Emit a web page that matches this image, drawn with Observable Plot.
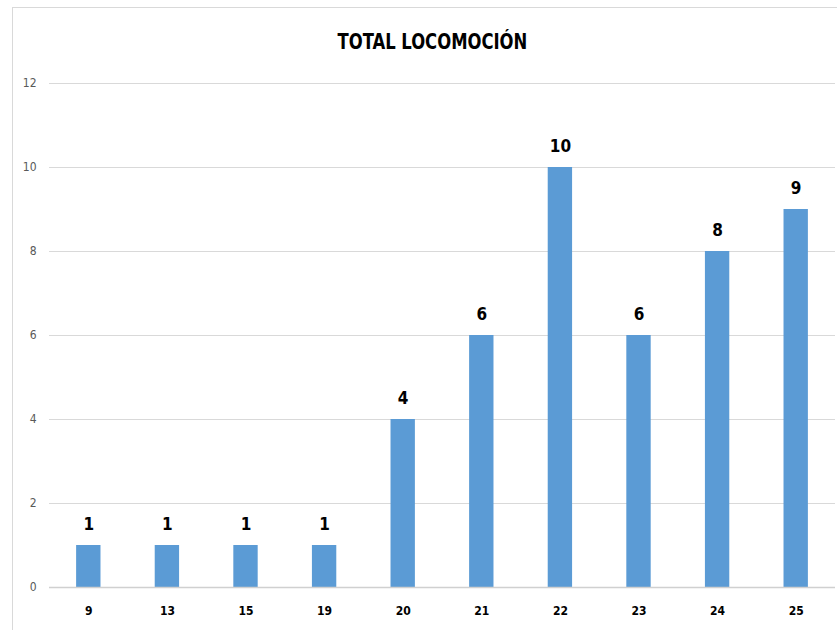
<!DOCTYPE html>
<html>
<head>
<meta charset="utf-8">
<script src="https://cdn.jsdelivr.net/npm/d3@7"></script>
<script src="https://cdn.jsdelivr.net/npm/@observablehq/plot@0.6"></script>
<style>
  html, body { margin: 0; padding: 0; background: #fff; width: 837px; height: 630px; overflow: hidden; }
  #frame { position: absolute; left: 12px; top: 7px; width: 840px; height: 640px; border: 1px solid #d9d9d9; box-sizing: border-box; }
  #title { position: absolute; left: 0; top: 27px; width: 865px; text-align: center; font-family: "Liberation Sans Narrow", "DejaVu Sans Condensed", sans-serif; font-weight: bold; font-size: 22px; color: #000; line-height: 30px; transform: scaleX(0.83); transform-origin: 432px 0; }
  #chart { position: absolute; left: 0; top: 70px; }
</style>
</head>
<body>
<div id="frame"></div>
<div id="title">TOTAL LOCOMOCIÓN</div>
<div id="chart"></div>
<script>
const categories = ["9", "13", "15", "19", "20", "21", "22", "23", "24", "25"];
const values = [1, 1, 1, 1, 4, 6, 10, 6, 8, 9];
const yTicks = [0, 2, 4, 6, 8, 10, 12];

const data = categories.map((c, i) => ({category: c, value: values[i]}));
const font = '"Liberation Sans Narrow", "DejaVu Sans Condensed", sans-serif';

const chart = Plot.plot({
  width: 837,
  height: 560,
  marginLeft: 49,
  marginRight: 2,
  marginTop: 13,
  marginBottom: 43,
  style: {fontFamily: font, fontSize: "12px", background: "transparent"},
  x: {domain: categories, paddingInner: 0.69, paddingOuter: 0.345, round: false, label: null},
  y: {domain: [0, 12], label: null},
  marks: [
    Plot.ruleY(yTicks, {stroke: "#d9d9d9", strokeWidth: 1}),
    Plot.barY(data, {x: "category", y: "value", fill: "#5b9bd5"}),
    Plot.ruleY([0], {stroke: "#d0d0d0", strokeWidth: 1.5}),
    Plot.text(data, {x: "category", y: "value", text: d => String(d.value), dy: -16, lineAnchor: "bottom", fontWeight: "bold", fontSize: 17, fill: "#000"}),
    Plot.axisX({tickSize: 0, tickPadding: 19, fontWeight: "bold", fontSize: 12, fill: "#000"}),
    Plot.axisY({ticks: yTicks, tickSize: 0, tickPadding: 13, fontSize: 12, fill: "#595959"})
  ]
});
document.getElementById("chart").appendChild(chart);
</script>
</body>
</html>
